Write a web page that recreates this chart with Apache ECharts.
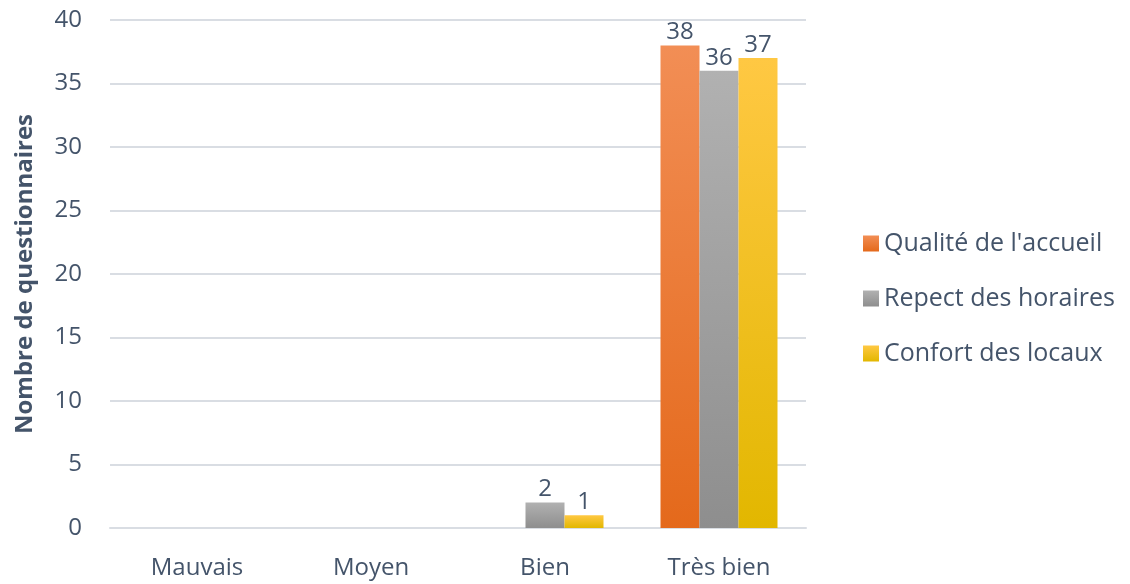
<!DOCTYPE html>
<html>
<head>
<meta charset="utf-8">
<script src="https://cdn.jsdelivr.net/npm/echarts@6/dist/echarts.min.js"></script>
<style>
  html, body { margin: 0; padding: 0; background: #fff; }
  #chart { width: 1130px; height: 584px; }
</style>
</head>
<body>
<div id="chart"></div>
<script>
// donnees
var categories = ['Mauvais', 'Moyen', 'Bien', 'Très bien'];
var seriesNames = ["Qualité de l'accueil", 'Repect des horaires', 'Confort des locaux'];
var accueil = [0, 0, 0, 38];
var horaires = [0, 0, 2, 36];
var locaux = [0, 0, 1, 37];

var textColor = '#44546A';
var font = '"Open Sans", "Noto Sans", sans-serif';

function grad(top, bottom) {
  return new echarts.graphic.LinearGradient(0, 0, 0, 1, [
    { offset: 0, color: top },
    { offset: 1, color: bottom }
  ]);
}

var colors = [
  grad('#F28E55', '#E4691B'),
  grad('#B1B1B1', '#8E8E8E'),
  grad('#FFC843', '#E2B700')
];

function makeSeries(name, data, color) {
  return {
    name: name,
    type: 'bar',
    barWidth: 39,
    barGap: '0%',
    itemStyle: { color: color },
    label: {
      show: true,
      position: 'top',
      distance: 1,
      color: textColor,
      fontSize: 24,
      fontFamily: font,
      formatter: function (p) { return p.value === 0 ? '' : p.value; }
    },
    data: data
  };
}

var chart = echarts.init(document.getElementById('chart'));
var option = {
  animation: false,
  textStyle: { fontFamily: font },
  grid: { left: 110, right: 324, top: 20, bottom: 56 },
  legend: {
    orient: 'vertical',
    left: 858,
    top: 226,
    itemWidth: 16,
    itemHeight: 16,
    itemGap: 30,
    icon: 'rect',
    textStyle: { color: textColor, fontSize: 25, fontFamily: font },
    data: seriesNames
  },
  xAxis: {
    type: 'category',
    data: categories,
    axisLine: { lineStyle: { color: '#D9DDE3', width: 2 } },
    axisTick: { show: false },
    axisLabel: { color: textColor, fontSize: 24, fontFamily: font, margin: 28 }
  },
  yAxis: {
    type: 'value',
    min: 0,
    max: 40,
    interval: 5,
    name: 'Nombre de questionnaires',
    nameLocation: 'middle',
    nameGap: 73,
    nameTextStyle: { color: textColor, fontSize: 24, fontWeight: 'bold', fontFamily: font },
    axisLine: { show: false },
    axisTick: { show: false },
    axisLabel: { color: textColor, fontSize: 24, fontFamily: font, margin: 28 },
    splitLine: { lineStyle: { color: '#D9DDE3', width: 2 } }
  },
  series: [
    makeSeries(seriesNames[0], accueil, colors[0]),
    makeSeries(seriesNames[1], horaires, colors[1]),
    makeSeries(seriesNames[2], locaux, colors[2])
  ]
};
chart.setOption(option);

window.addEventListener('resize', function () {
  chart.resize();
});
</script>
</body>
</html>
